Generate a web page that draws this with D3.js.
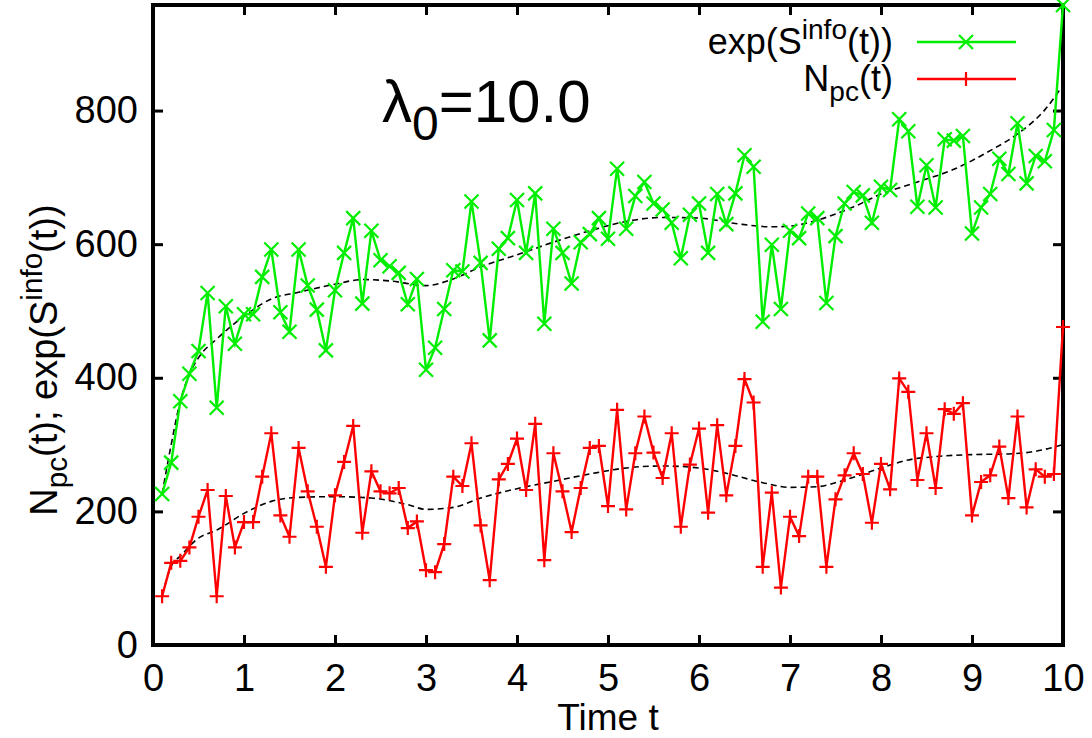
<!DOCTYPE html>
<html>
<head>
<meta charset="utf-8">
<script src="https://cdn.jsdelivr.net/npm/d3@7"></script>
<style>
  html, body { margin: 0; padding: 0; background: #fff; }
  svg text { font-family: "Liberation Sans", Arial, sans-serif; fill: #000; }
</style>
</head>
<body>
<svg id="chart" width="1092" height="738"></svg>
<script>
// ---- data ----
const times = d3.range(1, 101).map(i => +(i / 10).toFixed(1));
const expSinfo = [226,273,365,406,440,527,355,507,451,495,
  495,551,592,498,469,592,538,502,441,531,
  587,639,511,620,576,567,557,510,548,412,
  445,503,561,559,664,572,456,593,609,666,
  587,676,481,623,587,541,603,615,639,608,
  713,623,672,693,661,652,632,579,644,661,
  587,675,630,676,733,716,484,599,503,620,
  609,646,639,512,612,661,678,673,632,686,
  681,787,769,656,718,655,757,755,762,616,
  655,675,728,705,781,691,732,724,771,958];
const nPc = [73,123,126,146,192,232,73,223,146,184,
  184,252,317,194,162,295,230,177,117,224,
  274,328,168,260,230,227,235,175,185,112,
  109,151,252,238,302,179,97,248,271,309,
  232,331,127,287,230,169,235,295,298,208,
  352,203,287,342,288,250,317,177,270,324,
  198,329,224,298,398,363,117,228,86,192,
  163,252,252,117,218,254,287,256,183,271,
  233,399,379,247,317,235,353,346,362,194,
  244,254,297,220,342,206,263,252,256,476];
// smoothed (dashed) curves
const smoothGreenT = [0.1,0.2,0.3,0.4,0.5,0.7,1.0,1.3,1.6,2.0,2.3,2.6,3.0,3.3,3.6,4.0,4.4,4.8,5.2,5.6,6.0,6.4,6.8,7.0,7.3,7.7,8.0,8.4,8.8,9.2,9.5,9.8,10.0];
const smoothGreenV = [226,300,365,405,430,458,492,518,528,540,547,545,538,548,566,584,603,620,634,640,639,631,626,627,636,656,675,693,712,740,765,801,838];
const smoothRedT = [0.1,0.2,0.3,0.5,0.7,1.0,1.3,1.6,2.0,2.4,2.8,3.0,3.3,3.6,4.0,4.4,4.8,5.2,5.6,6.0,6.3,6.7,7.0,7.3,7.6,8.0,8.3,8.6,9.0,9.4,9.7,10.0];
const smoothRedV = [74,118,133,160,172,197,215,221,222,220,210,203,206,220,234,245,256,265,268,265,257,243,236,237,247,265,277,282,285,286,290,300];
const xTicks = [0,1,2,3,4,5,6,7,8,9,10];
const yTicks = [0,200,400,600,800];

// ---- layout ----
const svg = d3.select("#chart");
const margin = {left: 153, top: 5, right: 29, bottom: 93};
const W = 1092 - margin.left - margin.right;
const H = 738 - margin.top - margin.bottom;
const g = svg.append("g").attr("transform", `translate(${margin.left},${margin.top})`);

const x = d3.scaleLinear().domain([0, 10]).range([0, W]);
const y = d3.scaleLinear().domain([0, d3.max(expSinfo)]).range([H, 0]);

const FS = 38;
const tickLen = 10;

// axes
const xAxis = g.append("g").attr("transform", `translate(0,${H})`)
  .call(d3.axisBottom(x).tickValues(xTicks).tickFormat(d3.format("d")).tickSize(-tickLen).tickPadding(19));
const xAxisTop = g.append("g")
  .call(d3.axisTop(x).tickValues(xTicks.slice(1, -1)).tickFormat("").tickSize(-tickLen));
const yAxis = g.append("g")
  .call(d3.axisLeft(y).tickValues(yTicks).tickFormat(d3.format("d")).tickSize(-tickLen).tickPadding(15));
const yAxisR = g.append("g").attr("transform", `translate(${W},0)`)
  .call(d3.axisRight(y).tickValues(yTicks.slice(1)).tickFormat("").tickSize(-tickLen));
[xAxis, xAxisTop, yAxis, yAxisR].forEach(a => {
  a.select(".domain").remove();
  a.selectAll(".tick line").attr("stroke", "#000").attr("stroke-width", 3);
  a.selectAll(".tick text").style("font-size", FS + "px").style("font-family", '"Liberation Sans", Arial, sans-serif');
});

// frame
g.append("rect").attr("x", 0).attr("y", 0).attr("width", W).attr("height", H)
  .attr("fill", "none").attr("stroke", "#000").attr("stroke-width", 4);

// smoothed dashed curves
const smoothLine = d3.line().x(d => x(d[0])).y(d => y(d[1])).curve(d3.curveMonotoneX);
[[smoothGreenT, smoothGreenV], [smoothRedT, smoothRedV]].forEach(([ts, vs]) => {
  g.append("path").datum(ts.map((t, i) => [t, vs[i]]))
    .attr("d", smoothLine).attr("fill", "none").attr("stroke", "#000")
    .attr("stroke-width", 1.6).attr("stroke-dasharray", "6,4");
});

const GREEN = "#00ee00", RED = "#ff0000";
const line = d3.line().x(d => x(d[0])).y(d => y(d[1]));

function drawSeries(vals, color, marker) {
  const pts = times.map((t, i) => [t, vals[i]]);
  g.append("path").datum(pts).attr("d", line).attr("fill", "none")
    .attr("stroke", color).attr("stroke-width", 2.4).attr("stroke-linejoin", "miter");
  const m = g.append("g");
  pts.forEach(p => drawMarker(m, x(p[0]), y(p[1]), color, marker));
}
function drawMarker(sel, cx, cy, color, marker) {
  const s = 7;
  const d = marker === "x"
    ? `M${cx - s},${cy - s}L${cx + s},${cy + s}M${cx - s},${cy + s}L${cx + s},${cy - s}`
    : `M${cx - s},${cy}L${cx + s},${cy}M${cx},${cy - s}L${cx},${cy + s}`;
  sel.append("path").attr("d", d).attr("stroke", color).attr("stroke-width", 2.2).attr("fill", "none");
}
drawSeries(expSinfo, GREEN, "x");
drawSeries(nPc, RED, "+");

// legend
const legend = svg.append("g");
const LFS = 36;
const legItems = [
  {color: GREEN, marker: "x", y: 42, parts: [["exp(S", 0, 1], ["info", -15, 0.78], ["(t))", 15, 1]]},
  {color: RED, marker: "+", y: 79, parts: [["N", 0, 1], ["pc", 10, 0.78], ["(t)", -10, 1]]}
];
legItems.forEach(it => {
  legend.append("line").attr("x1", 917).attr("x2", 1016).attr("y1", it.y).attr("y2", it.y)
    .attr("stroke", it.color).attr("stroke-width", 2.4);
  drawMarker(legend, 966, it.y, it.color, it.marker);
  const t = legend.append("text").attr("x", 893).attr("y", it.y + 12)
    .attr("text-anchor", "end").style("font-size", LFS + "px");
  it.parts.forEach(([txt, dy, sc]) => {
    t.append("tspan").attr("dy", dy).style("font-size", (LFS * sc) + "px").text(txt);
  });
});

// lambda annotation
const lam = svg.append("text").attr("x", 382).attr("y", 122).style("font-size", "60px");
lam.append("tspan").text("λ");
lam.append("tspan").attr("dy", 18).style("font-size", "48px").text("0");
lam.append("tspan").attr("dy", -18).text("=10.0");

// axis titles
svg.append("text").attr("x", margin.left + W / 2).attr("y", 730)
  .attr("text-anchor", "middle").style("font-size", "37px").text("Time t");
const yl = svg.append("text").attr("transform", "translate(57,360) rotate(-90)")
  .attr("text-anchor", "middle").style("font-size", FS + "px");
yl.append("tspan").text("N");
yl.append("tspan").attr("dy", 10).style("font-size", (FS * 0.78) + "px").text("pc");
yl.append("tspan").attr("dy", -10).text("(t); exp(S");
yl.append("tspan").attr("dy", -15).style("font-size", (FS * 0.78) + "px").text("info");
yl.append("tspan").attr("dy", 15).text("(t))");
</script>
</body>
</html>
